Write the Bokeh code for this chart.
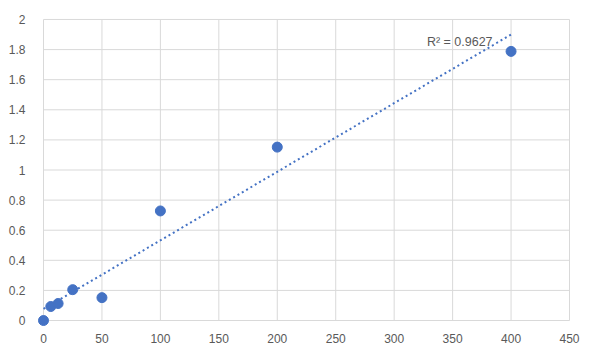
import numpy as np
from bokeh.plotting import figure
from bokeh.models import FixedTicker, Range1d, Label, BoxAnnotation
from bokeh.embed import file_html
from bokeh.resources import INLINE

# data
concentration = [0, 6.25, 12.5, 25, 50, 100, 200, 400]
od_values = [0.0, 0.093, 0.113, 0.205, 0.152, 0.728, 1.152, 1.788]
x_ticks = [0, 50, 100, 150, 200, 250, 300, 350, 400, 450]
y_ticks = [0, 0.2, 0.4, 0.6, 0.8, 1.0, 1.2, 1.4, 1.6, 1.8, 2.0]
y_tick_labels = ["0", "0.2", "0.4", "0.6", "0.8", "1", "1.2", "1.4", "1.6", "1.8", "2"]
r2_text = "R² = 0.9627"

BLUE = "#4472C4"
GRID = "#d9d9d9"
TXT = "#595959"
FONT = "Liberation Sans"

# frame geometry (pixels, relative to the figure)
PAD = 7
FW, FH = 526, 302
W, H = 584, 345
LEFT, TOP = 43, 19
xmin, xmax = x_ticks[0], x_ticks[-1]
ymin, ymax = y_ticks[0], y_ticks[-1]
xpad = PAD * (xmax - xmin) / FW
ypad = PAD * (ymax - ymin) / FH

p = figure(width=W, height=H, output_backend="svg", toolbar_location=None,
           x_range=Range1d(xmin - xpad, xmax + xpad), y_range=Range1d(ymin - ypad, ymax + ypad),
           min_border_left=LEFT - PAD, min_border_right=W - LEFT - FW - PAD,
           min_border_top=TOP - PAD, min_border_bottom=H - TOP - FH - PAD)
p.outline_line_color = None
p.background_fill_color = "white"
p.border_fill_color = "white"
p.xgrid.grid_line_color = None
p.ygrid.grid_line_color = None

p.xaxis.ticker = FixedTicker(ticks=x_ticks)
p.yaxis.ticker = FixedTicker(ticks=y_ticks)
p.yaxis.major_label_overrides = {t: l for t, l in zip(y_ticks, y_tick_labels)}
for ax in (p.xaxis, p.yaxis):
    ax.axis_line_color = None
    ax.major_tick_line_color = None
    ax.minor_tick_line_color = None
    ax.major_label_text_color = TXT
    ax.major_label_text_font = FONT
    ax.major_label_text_font_size = "12px"
p.yaxis.major_label_standoff = 5
p.xaxis.major_label_standoff = 0

# grid lines limited to the tick span
p.segment(x0=x_ticks, y0=[ymin] * len(x_ticks), x1=x_ticks, y1=[ymax] * len(x_ticks),
          line_color=GRID, line_width=1)
p.segment(x0=[xmin] * len(y_ticks), y0=y_ticks, x1=[xmax] * len(y_ticks), y1=y_ticks,
          line_color=GRID, line_width=1)

# linear trendline
slope, intercept = np.polyfit(concentration, od_values, 1)
tx = [min(concentration), max(concentration)]
ty = [intercept + slope * v for v in tx]
p.line(tx, ty, line_color=BLUE, line_width=2, line_dash="2 3")

p.scatter(concentration, od_values, size=10, fill_color=BLUE, line_color=BLUE)

p.add_layout(Label(x=328, y=1.85, text=r2_text, text_font=FONT, text_font_size="12.5px",
                   text_color=TXT, text_baseline="middle", text_align="left"))

# chart-area border around the whole canvas
p.add_layout(BoxAnnotation(left=0.5, right=W - 0.5, top=0.5, bottom=H - 0.5,
                           left_units="canvas", right_units="canvas",
                           top_units="canvas", bottom_units="canvas",
                           fill_alpha=0, line_color=GRID, line_width=1.5, level="overlay"))

open("out.html", "w").write(file_html(p, INLINE))
